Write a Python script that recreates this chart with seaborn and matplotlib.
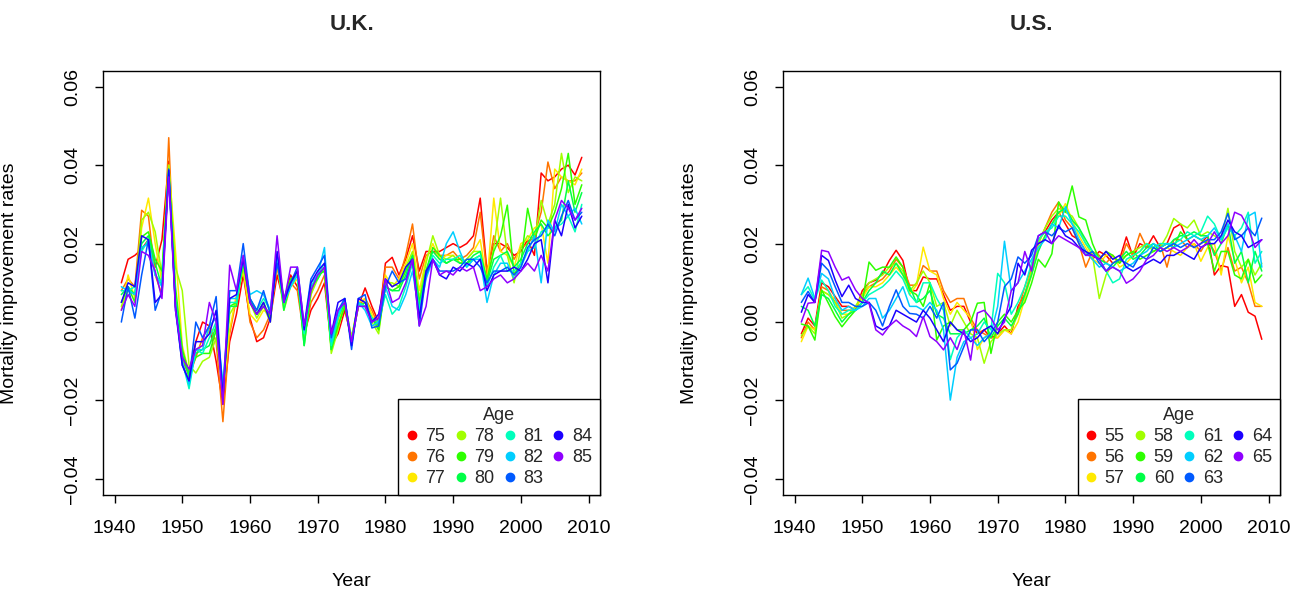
import numpy as np
import pandas as pd
import seaborn as sns
import matplotlib.pyplot as plt
from matplotlib.colors import hsv_to_rgb
from matplotlib.lines import Line2D

# Data (mortality improvement rates, in units of 0.001), years 1941-2009
years = list(range(1941, 2010))
uk_ages = [75, 76, 77, 78, 79, 80, 81, 82, 83, 84, 85]
us_ages = [55, 56, 57, 58, 59, 60, 61, 62, 63, 64, 65]

uk_75 = [10, 16, 17, 18.6, 21, 14, 21, 41, 4, -10,
         -13, -5, 0, -1, -10, -21, -5, 2, 12, 1,
         -5, -4, 1, 12, 5, 12, 9, -3, 3, 6,
         10, -6, -3, 3, -4, 4, 8.7, 4, 0, 15,
         16.5, 12, 16, 22, 13, 18, 18, 18, 19, 20,
         19, 20, 22, 31.6, 13, 20, 20, 19, 17, 18,
         21, 17, 38, 36, 37, 39, 40, 37.5, 42]
uk_76 = [8, 11, 9, 28.5, 27, 12, 7, 47, 6, -9,
         -14, -9, -4, -1, -5, -25.4, -3, 6, 14, 0,
         -4, -2, 2, 14, 5, 10, 8, -4, 5, 8,
         12, -6, -1, 4, -5, 4, 6, 3, -1, 14,
         14, 11, 17, 25, 11, 17, 18, 17, 17, 18,
         16, 17, 19, 28, 12, 22, 18, 20, 16, 19,
         20, 22, 28, 40.8, 34, 37, 36, 36, 38]
uk_77 = [3, 12, 6, 24, 31.6, 20, 10, 40, 18, -6,
         -13, -7, -6, -2, -2, -18, -2, 7, 13, 2,
         0, 3, 2, 15, 3, 9, 11, -3, 7, 12,
         13, -6, 0, 5, -4, 5, 6, 2, -2, 12,
         9, 11, 15, 20, 8, 16, 20, 16, 17, 17,
         15, 16, 18, 21, 10, 31.6, 18, 17, 14, 20,
         21, 24, 25, 15, 39, 37, 36, 35, 39]
uk_78 = [4, 8, 7, 26, 28, 23, 12, 40, 14, 8,
         -11, -13, -10, -9, -4, -16, 2, 5, 14, 5,
         1, 4, 0, 17, 4, 10, 13, -4, 7, 11,
         14, -8, -2, 5, -4, 5, 4, 0, -3, 10,
         10, 9, 14, 18, 6, 15, 22, 17, 16, 17,
         15, 16, 18, 18, 10, 19, 31.6, 17, 10, 19,
         22, 21, 31, 25, 30, 43, 33, 37, 36]
uk_79 = [5, 9, 5, 21.7, 23, 16, 13, 39, 9, -7,
         -13, -9, -8, -8, -2, -17, 4, 5, 15, 6,
         2, 5, 1, 17, 6, 11, 12, -6, 8, 12,
         13, -7, -1, 4, -5, 4, 5, 1, -2, 9,
         8, 9, 13, 17, 5, 13, 19, 17, 15, 16,
         16, 15, 16, 17, 11, 18, 22, 29.8, 12, 15,
         29, 21, 26, 24, 28, 34, 43, 30, 35]
uk_80 = [7, 9, 7, 20, 22, 15, 9, 38, 6, -8,
         -14, -8, -7, -6, -1, -18, 4, 4, 16, 5,
         2, 4, 2, 16, 3, 10, 12, -6, 9, 11,
         14, -7, 1, 5, -5, 5, 4, 1, -1, 9,
         8, 8, 12, 17, 4, 13, 18, 16, 15, 16,
         15, 15, 17, 18, 10, 16, 17, 18, 14, 16,
         20, 23, 25, 22, 24, 26, 36, 28, 33]
uk_81 = [8, 8, 9, 18, 21, 12, 10, 38, 5, -10,
         -17, -7, -8, -4, 0, -16, 5, 5, 16, 6,
         3, 6, 3, 17, 5, 9, 12, -3, 9, 12,
         15, -6, 1, 6, -5, 5, 4, 1, 0, 7,
         2, 4, 9, 15, 3, 12, 17, 15, 16, 16,
         17, 14, 16, 17, 9, 14, 17, 13, 13, 15,
         18, 19, 23, 24, 24, 25, 27, 23, 30]
uk_82 = [9, 8, 7, 19, 20, 12, 9, 38, 4, -10,
         -16, -7, -7, -1, 1, -16, 6, 6, 17, 7,
         8, 7, 3, 17, 5, 9, 12, -2, 10, 12,
         19, -5, 2, 6, -6, 5, 3, -1, 0, 9,
         4, 3, 7, 13, 2, 11, 16, 14, 20, 23,
         18, 14, 16, 16, 5, 12, 15, 15, 11, 14,
         18, 22, 10, 26, 23, 30, 27, 29, 25]
uk_83 = [0, 9, 1, 12, 21, 3, 8, 39, 3, -11,
         -15, 0, -4, -1, 6.5, -19, 8, 8, 20, 6,
         3, 8, 2, 15, 6, 10, 14, -1, 11, 14,
         17, -4, 3, 6, -7, 6, 7, -1.5, -1, 9,
         13, 10, 11, 16, -1, 12, 16, 13, 13, 13,
         14, 16, 16, 14, 10, 13, 13, 14, 12, 14,
         19, 21, 22, 25, 22, 27, 31, 26, 28]
uk_84 = [5, 10, 9, 22, 21, 5, 7, 38.7, 4, -11,
         -15, -5, -5, -3, 3, -19, 6, 7, 16, 5,
         2, 5, 0, 18, 5, 10, 13, -2, 10, 13,
         15, -3, 5, 6, -6, 6, 5, 0, 2, 11,
         9, 10, 14, 16, 1, 13, 16, 12, 11, 14,
         13, 15, 14, 16, 8, 12, 13, 13, 14, 13,
         16, 20, 21, 10, 26, 22, 30, 24, 27]
uk_85 = [3, 7, 4, 18, 17, 13, 6, 37, 3, -9,
         -12, -7, -6, 5, 0, -21, 14.5, 8, 17, 5,
         2, 4, 2, 22, 5, 14, 14, -1, 8, 12,
         14, -3, 3, 5, -5, 4, 4, 0, 1, 11,
         5, 6, 10, 16, -1, 4, 16, 12, 13, 12,
         14, 13, 14, 8, 9, 11, 12, 10, 11, 13,
         15, 13, 17, 13, 26, 31, 29, 26, 29]

us_55 = [-3, 1, -1, 10, 9, 6.5, 4, 4, 3, 8,
         10, 10.7, 12.4, 15.7, 18.3, 15.7, 8, 8, 11.5, 11,
         11, 7, 3, 4, 4, 0, -3, -2, -4, -3,
         -1, -3, 4, 7, 13, 21, 23, 26, 28, 25,
         22, 21, 18, 16, 18, 17, 15, 16, 21.7, 16.6,
         20, 19, 22, 19, 20, 24, 25, 21, 19, 20,
         22, 12, 14.4, 14, 4, 7, 2.5, 1.5, -4.4]
us_56 = [-4, 0, -2, 9, 8, 5, 3, 3, 3, 7,
         9, 10, 11, 13, 16, 14, 9.4, 9.4, 14.4, 13,
         13, 8, 5, 6, 6, 1, -2, -3, -4, -4,
         -2, -2, 3, 9, 14, 20, 24, 28, 30.6, 26,
         24, 20, 14, 18, 17, 15, 17, 15, 20, 17,
         22.6, 19, 19, 20, 14, 21, 21, 19, 20, 18,
         21, 18, 13, 19, 13, 14, 10, 4, 4]
us_57 = [-5, -1, -2, 8, 7, 6, 2, 2, 4, 6,
         9, 9, 10, 12, 14, 12, 7, 9.4, 19.1, 13,
         12, 6, 2, 5, 3, 1, -7, -4, -3, -4,
         -2, -3, 0, 6, 12, 19, 22, 25, 27, 30.2,
         26, 22, 19, 16, 15, 17, 17, 14, 15, 17,
         18, 20, 19, 18, 19, 18, 17, 19, 20, 15.5,
         19, 20, 12, 22, 16, 10, 14, 5, 4]
us_58 = [-3.5, -1, -3, 8, 7, 5, 1, 2, 4, 7,
         10, 11, 12, 14, 15, 13, 8, 10, 13, 10,
         4, 5, -1, 3, 0, -3, -4, -10.5, -5, -3,
         -2, -2, 2, 7, 13, 20, 24, 27, 29, 28,
         27, 24, 20, 17, 6, 12, 15, 16, 17, 18,
         19, 20, 18, 19, 22, 26.4, 25, 24, 26, 22,
         23, 22, 21, 29, 18, 14, 16, 12, 15]
us_59 = [-0.5, -1, -4.6, 8.2, 4.8, 1.4, -1.2, 1, 3, 5,
         15.3, 13.2, 14, 14, 16.6, 14, 8, 7, 4, 10,
         -4.6, -1, 0, -2, -2, 0, 4.8, 5, -8, 0,
         2, 0, 3, 5, 9.9, 16, 14, 17.4, 30.6, 28,
         34.7, 26.8, 26, 20, 16, 18, 17, 15, 17, 18,
         16, 17, 18, 19, 20, 19, 23, 21, 22, 21,
         20, 13, 18, 18, 12, 11, 16, 10, 12]
us_60 = [4, 3, -1, 7, 6, 3, 0, 2, 3, 5,
         8, 10, 13, 12, 15, 12, 9, 5, 6, 8,
         2, 1, -3, -3, -3, -2, -1, 1, -4, -1,
         1, -1, 2, 7, 12, 18, 22, 25, 28, 29,
         26, 24, 21, 18, 16, 15, 14, 16, 18, 16,
         17, 19, 20, 18, 19, 21, 22, 22, 23, 22,
         22, 17, 20, 25, 15, 18, 10, 18, 13]
us_61 = [7, 9, 5.6, 10.7, 8, 4, 2, 3, 3, 5,
         7, 8, 9, 10.7, 13, 11, 7, 5, 10, 10,
         6, 3, -9.6, -4, -2, -4, -3, 0, -2, 12.4,
         10, 2, 5, 9, 15, 21, 23, 24, 27, 27,
         25, 23, 20, 18, 16, 13, 10, 11, 16, 17,
         18, 20, 19, 20, 20, 20, 21, 23, 22, 23,
         27, 25, 21, 24, 22, 24, 28, 15, 18]
us_62 = [7, 11.2, 6, 12.4, 11, 6, 3, 4, 3, 4,
         6, 6, 1, 3, 6, 9, 4, 4, 3, 5,
         3, -2, -19.9, -9, -5, -4, -6, -4, -3, 4,
         20.6, 8, 10, 13, 16, 19, 21, 25, 24, 29.4,
         25, 21, 18, 16, 14, 15, 14, 13, 14, 15,
         17, 18, 20, 19, 20, 19, 20, 21, 22, 21,
         22, 24, 21, 25, 22, 18, 27, 28, 14]
us_63 = [5, 7.8, 5, 15, 13.2, 9, 5, 5, 4, 4,
         5, 3, -1, 4, 8.2, 4, 2.2, 2, 1, 4,
         1, 5, -12.2, -10.5, -6.3, -2, -2, -5, -3, 0,
         9, 11, 16.6, 15, 17, 22, 23, 22, 24, 23,
         24, 20, 17, 18, 15, 13, 15, 16, 15, 14,
         17, 16, 19, 18, 19, 20, 19, 20, 19, 20,
         21, 21, 23, 27.7, 21, 22, 24, 22, 26.5]
us_64 = [2.5, 7, 5, 17, 15.7, 10.7, 6.5, 9.4, 6, 5,
         5, -1, -2, -1, 3, 2, 1, 0, 3, 1,
         -2, -5, 0, -2, -3, -5, -4, -2, -1, -3,
         1, 4, 15, 12, 18.3, 20, 21, 20, 24.7, 22,
         21, 19, 18, 17, 16, 18, 16, 17, 14, 13,
         14, 15, 16, 15, 17, 17, 18, 17, 16, 19,
         20, 20, 22, 26, 23, 22, 19, 20, 21]
us_65 = [0, 4.8, 5, 18.3, 17.9, 14, 10.7, 11.5, 8.2, 6,
         4.8, -2, -3.3, -1, 0.5, -1, -2, -3.7, 1.4, -3.7,
         -5, -7.1, -4, -7, -2, -9.7, 2.3, 3, 1, -2,
         0, 8, 10, 18, 13, 22, 23, 20, 22, 21,
         20, 19, 17, 17, 16, 13, 14, 13, 9.9, 11,
         13, 16, 17, 19, 18, 19, 18, 19, 21, 19,
         20, 23, 20, 22, 28, 27.2, 24, 19, 21]

uk_series = [uk_75, uk_76, uk_77, uk_78, uk_79, uk_80, uk_81, uk_82, uk_83, uk_84, uk_85]
us_series = [us_55, us_56, us_57, us_58, us_59, us_60, us_61, us_62, us_63, us_64, us_65]


def long_frame(ages, series):
    return pd.DataFrame({
        'Year': years * len(ages),
        'Age': np.repeat(ages, len(years)),
        'Rate': np.concatenate([np.array(s, dtype=float) for s in series]) / 1000,
    })


dtf_uk = long_frame(uk_ages, uk_series)
dtf_us = long_frame(us_ages, us_series)

# rainbow colours, red -> violet
hues = np.linspace(0, 0.76, 11)
colors = [hsv_to_rgb((h, 1, 1)) for h in hues]

sns.set_theme(style='ticks')
plt.rcParams['font.family'] = ['Liberation Sans', 'DejaVu Sans']

fig = plt.figure(figsize=(12.93, 5.90), dpi=100)
ax_uk = fig.add_axes([0.0797, 0.161, 0.3844, 0.7186])
ax_us = fig.add_axes([0.6056, 0.161, 0.3844, 0.7186])

for ax, dtf, ages, title in [(ax_uk, dtf_uk, uk_ages, 'U.K.'),
                             (ax_us, dtf_us, us_ages, 'U.S.')]:
    pal = dict(zip(ages, colors))
    sns.lineplot(data=dtf, x='Year', y='Rate', hue='Age', palette=pal,
                 estimator=None, legend=False, lw=1.1, ax=ax)
    ax.set_xlim(1938.3, 2011.7)
    ax.set_ylim(-0.0441, 0.0640)
    ax.set_xticks(range(1940, 2011, 10))
    ax.set_yticks([-0.04, -0.02, 0.00, 0.02, 0.04, 0.06])
    ax.set_yticklabels(['\u22120.04', '\u22120.02', '0.00', '0.02', '0.04', '0.06'],
                       rotation=90, va='center')
    ax.tick_params(axis='both', direction='out', length=6, width=1,
                   color='black', labelsize=14, labelcolor='black')
    ax.tick_params(axis='x', pad=12)
    ax.tick_params(axis='y', pad=10)
    for sp in ax.spines.values():
        sp.set_visible(True)
        sp.set_color('black')
        sp.set_linewidth(1)
    ax.set_xlabel('Year', fontsize=14, color='black')
    ax.set_ylabel('Mortality improvement rates', fontsize=14, color='black')
    ax.xaxis.set_label_coords(0.5, -0.185)
    ax.yaxis.set_label_coords(-0.172, 0.5)
    ax.text(0.5, 1.11, title, transform=ax.transAxes, ha='center', va='center',
            fontsize=16, fontweight='bold')

    handles = [Line2D([], [], ls='none', marker='o', ms=6, color=c) for c in colors]
    leg = ax.legend(handles, [str(a) for a in ages], title='Age', ncol=4,
                    loc='lower right', bbox_to_anchor=(1, 0), borderaxespad=0,
                    fontsize=13, title_fontsize=13, frameon=True, fancybox=False,
                    edgecolor='black', framealpha=1, handlelength=0.6,
                    handletextpad=0.45, columnspacing=0.55, labelspacing=0.22,
                    borderpad=0.45)
    leg.get_frame().set_linewidth(1)

fig.savefig('out.png', dpi=100)
